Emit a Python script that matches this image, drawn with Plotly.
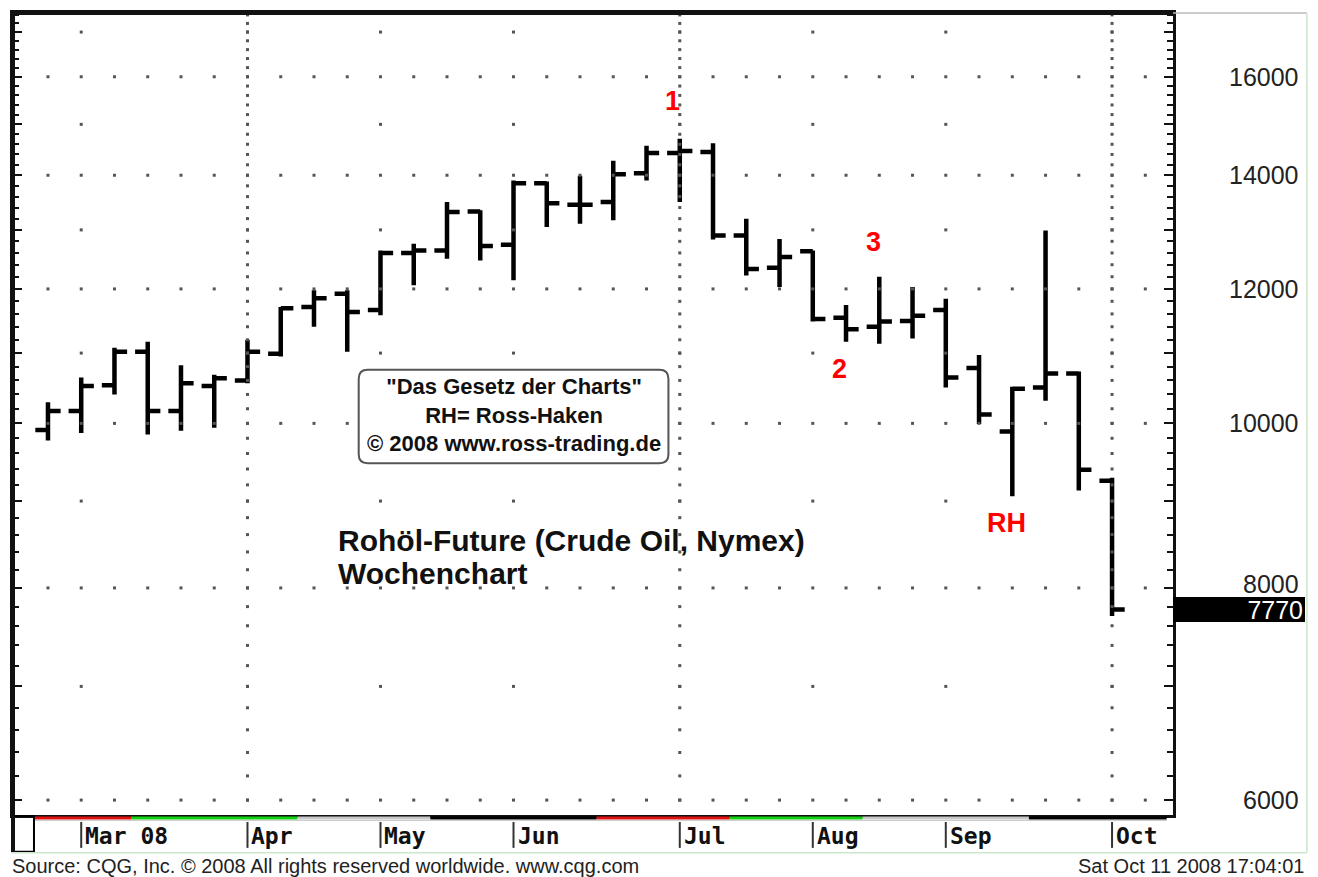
import math
import pandas as pd
import plotly.graph_objects as go

# ---------------- data (weekly OHLC, crude oil future x100) ----------------
week_start = "2008-02-25"
n_weeks = 33
open_ = [9910, 10170, 10530, 11020, 10170, 10520, 10600, 10990, 11710, 11920,
         11660, 12600, 12640, 13330, 12740, 13850, 13450, 13500, 14040, 14430,
         14450, 12900, 12350, 12630, 11540, 11400, 11490, 11660, 10780, 9890,
         10500, 10700, 9250]
high = [10290, 10640, 11080, 11170, 10820, 10680, 11200, 11710, 11980, 11980,
        12640, 12760, 13500, 13350, 13900, 13880, 13990, 14280, 14570, 14710,
        14620, 13200, 12840, 12640, 11740, 12200, 12030, 11840, 10970, 10510,
        12990, 10730, 9290]
low = [9770, 9870, 10400, 9850, 9900, 9940, 10560, 10950, 11400, 11020,
       11580, 12060, 12500, 12470, 12140, 13050, 13110, 13170, 13900, 13500,
       12830, 12220, 12030, 11480, 11170, 11140, 11220, 10500, 9990, 9060,
       10310, 9130, 7700]
close = [10170, 10520, 11020, 10170, 10560, 10630, 11020, 11690, 11850, 11630,
         12600, 12640, 13320, 12720, 13850, 13480, 13450, 14020, 14430, 14470,
         12900, 12330, 12530, 11520, 11360, 11480, 11570, 10640, 10120, 10480,
         10700, 9390, 7770]

last_price = 7770
y_label_vals = [6000, 8000, 10000, 12000, 14000, 16000]
y_label_text = ["6000", "8000", "10000", "12000", "14000", "16000"]
y_major_ticks = list(range(6000, 18000, 1000))
y_minor_ticks = list(range(6000, 17600, 200))
grid_major_levels = [6000, 8000, 10000, 12000, 14000, 16000]
grid_minor_levels = [7000, 9000, 11000, 13000, 15000, 17000]

month_starts = ["2008-03-03", "2008-04-07", "2008-05-05", "2008-06-02",
                "2008-07-07", "2008-08-04", "2008-09-01", "2008-10-06"]
month_labels = ["Mar 08", "Apr", "May", "Jun", "Jul", "Aug", "Sep", "Oct"]
quarter_lines = ["2008-04-07", "2008-07-07", "2008-10-06"]

strip_edges = ["2008-02-22", "2008-03-13 12:00", "2008-04-17 12:00", "2008-05-15 12:00",
               "2008-06-19 12:00", "2008-07-17 12:00", "2008-08-14 12:00",
               "2008-09-18 12:00", "2008-10-17 12:00"]
strip_colors = ["#e01010", "#10d010", "#c8c8c8", "#000000",
                "#e01010", "#10d010", "#c8c8c8", "#000000"]

marker_labels = ["1", "2", "3", "RH"]
marker_label_x = ["2008-07-05 12:00", "2008-08-09 17:00", "2008-08-16 17:00", "2008-09-13 20:00"]
marker_label_y = [15480, 10770, 12790, 8740]

weeks = pd.date_range(week_start, periods=n_weeks, freq="7D")
dot_weeks = pd.date_range(week_start, periods=n_weeks + 1, freq="7D")

# ---------------- figure geometry (page has an 8px body margin) ----------------
OFF = 8
PAGE_W, PAGE_H = 1318, 877
W, H = PAGE_W - OFF, PAGE_H - OFF
PL, PR, PT, PB = 12, 1173, 10, 815          # plot area in page pixels
L, T = PL - OFF, PT - OFF
R, B = W - (PR - OFF), H - (PB - OFF)
pw, ph = W - L - R, H - T - B


def px_x(p):
    return (p - PL) / pw


def px_y(p):
    return (PB - p) / ph


fig = go.Figure()

# dotted grid
gx, gy = [], []
for lv in grid_major_levels:
    for d in dot_weeks:
        gx.append(d)
        gy.append(lv)
for lv in grid_minor_levels:
    for d in month_starts:
        gx.append(pd.Timestamp(d))
        gy.append(lv)
for q in quarter_lines:
    for lv in y_minor_ticks:
        gx.append(pd.Timestamp(q))
        gy.append(lv)
fig.add_trace(go.Scatter(x=gx, y=gy, mode="markers",
                         marker=dict(symbol="square", size=3, color="#555555", line=dict(width=0)),
                         hoverinfo="skip", showlegend=False))

fig.add_trace(go.Ohlc(x=weeks, open=open_, high=high, low=low, close=close,
                      increasing=dict(line=dict(color="black", width=4.5)),
                      decreasing=dict(line=dict(color="black", width=4.5)),
                      tickwidth=0.38, showlegend=False, hoverinfo="skip"))

shapes = []
# color strip under the plot
for i, c in enumerate(strip_colors):
    shapes.append(dict(type="line", xref="x", yref="paper", x0=strip_edges[i], x1=strip_edges[i + 1],
                       y0=px_y(818), y1=px_y(818), line=dict(color=c, width=3)))
shapes.append(dict(type="line", xref="x", yref="paper", x0=strip_edges[0], x1=strip_edges[-1],
                   y0=px_y(820.5), y1=px_y(820.5), line=dict(color="#cccccc", width=1)))
# month tick lines in the date strip
for d in month_starts:
    shapes.append(dict(type="line", xref="x", yref="paper", x0=d, x1=d,
                       y0=px_y(822), y1=px_y(848), line=dict(color="#333333", width=2)))
# small empty box at lower left
shapes.append(dict(type="rect", xref="paper", yref="paper", x0=px_x(11), x1=px_x(33),
                   y0=px_y(816), y1=px_y(852), line=dict(color="black", width=2)))
# thick left/top border
shapes.append(dict(type="line", xref="paper", yref="paper", x0=px_x(9), x1=1, y0=1, y1=1,
                   line=dict(color="#111111", width=4)))
shapes.append(dict(type="line", xref="paper", yref="paper", x0=0, x1=0, y0=px_y(8), y1=px_y(852),
                   line=dict(color="#111111", width=4)))
# outer frame
shapes.append(dict(type="line", xref="paper", yref="paper", x0=1, x1=px_x(1307), y0=1, y1=1,
                   line=dict(color="#bbbbbb", width=1.5)))
shapes.append(dict(type="line", xref="paper", yref="paper", x0=px_x(1307), x1=px_x(1307),
                   y0=1, y1=px_y(853), line=dict(color="#cce6cc", width=1.5)))
shapes.append(dict(type="line", xref="paper", yref="paper", x0=px_x(10), x1=px_x(1307),
                   y0=px_y(853), y1=px_y(853), line=dict(color="#cce6cc", width=1.5)))
# rounded info box
bx0, bx1, by0, by1 = px_x(358), px_x(668), px_y(462), px_y(368)
rx, ry = 9 / pw, 9 / ph
path = (f"M {bx0+rx},{by0} L {bx1-rx},{by0} Q {bx1},{by0} {bx1},{by0+ry} "
        f"L {bx1},{by1-ry} Q {bx1},{by1} {bx1-rx},{by1} L {bx0+rx},{by1} "
        f"Q {bx0},{by1} {bx0},{by1-ry} L {bx0},{by0+ry} Q {bx0},{by0} {bx0+rx},{by0} Z")
shapes.append(dict(type="path", xref="paper", yref="paper", path=path,
                   line=dict(color="#555555", width=2), fillcolor="white", layer="above"))

ann = []
SANS = "Liberation Sans, Arial, sans-serif"
# y-axis labels (log axis -> annotation y in log10 units)
for v, t in zip(y_label_vals, y_label_text):
    ann.append(dict(xref="paper", yref="y", x=px_x(1301), y=math.log10(v), text=t, showarrow=False,
                    xanchor="right", yanchor="middle", yshift=4 if v == 8000 else 0,
                    font=dict(family=SANS, size=25, color="#222222")))
# last price box
ann.append(dict(xref="paper", yref="y", x=1.0, y=math.log10(last_price), text=str(last_price),
                showarrow=False, xanchor="left", yanchor="middle", align="right",
                width=128, height=21, borderpad=2, borderwidth=0, bgcolor="black",
                font=dict(family=SANS, size=25, color="white")))
# month labels
for d, t in zip(month_starts, month_labels):
    ann.append(dict(xref="x", yref="paper", x=d, y=px_y(836), text=t, showarrow=False,
                    xanchor="left", yanchor="middle", xshift=2,
                    font=dict(family="DejaVu Sans Mono, monospace", size=23, color="#111111", weight="bold")))
# red wave labels
for t, x, y in zip(marker_labels, marker_label_x, marker_label_y):
    ann.append(dict(xref="x", yref="y", x=x, y=math.log10(y), text=t, showarrow=False,
                    xanchor="center", yanchor="middle",
                    font=dict(family=SANS, size=27, color="#ff0000", weight="bold")))
# info box text
ann.append(dict(xref="paper", yref="paper", x=px_x(513), y=px_y(414),
                text="\"Das Gesetz der Charts\"<br>RH= Ross-Haken<br>© 2008 www.ross-trading.de",
                showarrow=False, xanchor="center", yanchor="middle", align="center",
                font=dict(family=SANS, size=22, color="#111111", weight="bold")))
# chart title
ann.append(dict(xref="paper", yref="paper", x=px_x(335), y=px_y(539),
                text="Rohöl-Future (Crude Oil, Nymex)", showarrow=False,
                xanchor="left", yanchor="middle",
                font=dict(family=SANS, size=30, color="#111111", weight="bold")))
ann.append(dict(xref="paper", yref="paper", x=px_x(335), y=px_y(573),
                text="Wochenchart", showarrow=False,
                xanchor="left", yanchor="middle",
                font=dict(family=SANS, size=30, color="#111111", weight="bold")))
# footer
ann.append(dict(xref="paper", yref="paper", x=px_x(9), y=px_y(866),
                text="Source: CQG, Inc. © 2008 All rights reserved worldwide. www.cqg.com",
                showarrow=False, xanchor="left", yanchor="middle",
                font=dict(family=SANS, size=20, color="#222222")))
ann.append(dict(xref="paper", yref="paper", x=px_x(1306), y=px_y(866),
                text="Sat Oct 11 2008 17:04:01",
                showarrow=False, xanchor="right", yanchor="middle",
                font=dict(family=SANS, size=20, color="#222222")))

fig.update_layout(
    width=W, height=H, margin=dict(l=L, r=R, t=T, b=B, pad=0),
    paper_bgcolor="white", plot_bgcolor="white",
    showlegend=False, shapes=shapes, annotations=ann,
    xaxis=dict(type="date", range=["2008-02-17 15:20", "2008-10-18 19:55"],
               showgrid=False, zeroline=False, showticklabels=False, ticks="",
               showline=True, linecolor="#111111", linewidth=2.5, mirror=True,
               rangeslider=dict(visible=False), fixedrange=True),
    yaxis=dict(type="log", range=[3.76937, 4.24167], side="right",
               showgrid=False, zeroline=False, showticklabels=False,
               tickmode="array", tickvals=y_major_ticks, ticks="inside", ticklen=9,
               tickwidth=2, tickcolor="#111111",
               minor=dict(tickmode="array", tickvals=y_minor_ticks, ticks="inside",
                          ticklen=6, tickwidth=1.5, tickcolor="#111111", showgrid=False),
               showline=True, linecolor="#111111", linewidth=2.5, mirror="allticks",
               fixedrange=True),
)

fig.write_html("out.html")
